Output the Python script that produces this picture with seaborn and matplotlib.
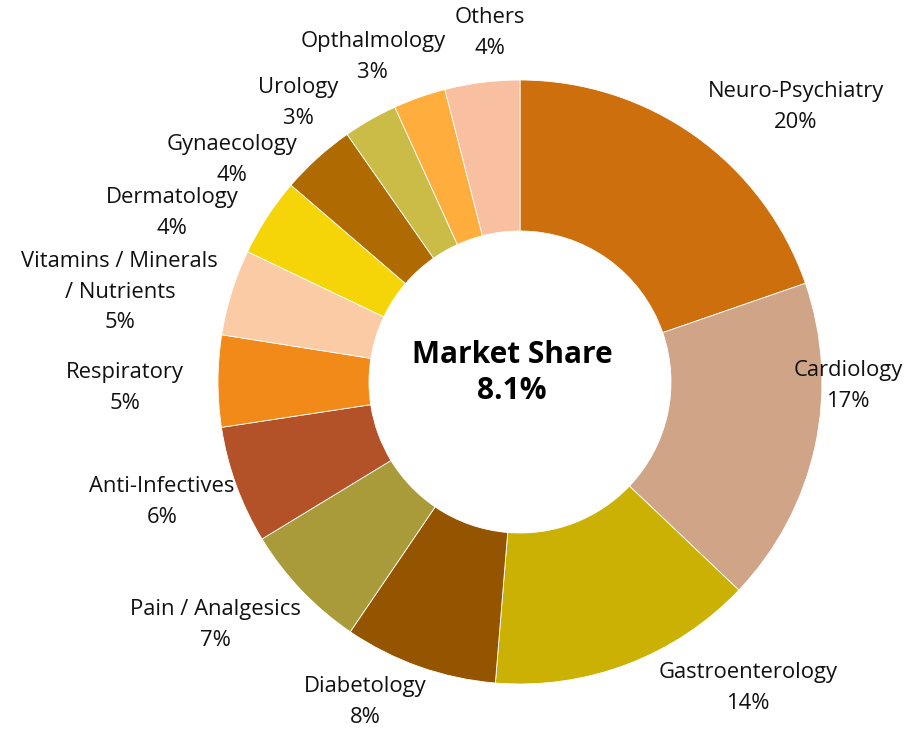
import matplotlib
matplotlib.use("Agg")
import matplotlib.pyplot as plt
import seaborn as sns
import numpy as np

categories = ["Neuro-Psychiatry", "Cardiology", "Gastroenterology", "Diabetology",
              "Pain / Analgesics", "Anti-Infectives", "Respiratory",
              "Vitamins / Minerals\n/ Nutrients", "Dermatology", "Gynaecology",
              "Urology", "Opthalmology", "Others"]
shares = [19.7, 17.4, 14.2, 8.2, 6.8, 6.3, 4.9, 4.6, 4.2, 4.0, 2.9, 2.8, 4.0]
colors = ["#CC6F0C", "#D0A587", "#CCB105", "#955500", "#A99A3A", "#B35128",
          "#F28A1A", "#FACBA5", "#F5D508", "#B06A02", "#CBBC48", "#FFAD3C", "#F8BFA1"]
center_title = "Market Share"
center_value = "8.1%"

# label anchor positions (layout, in pie-radius units)
label_pos = [(0.914, 0.911), (1.086, -0.013), (0.755, -1.013), (-0.513, -1.060),
             (-1.010, -0.805), (-1.185, -0.397), (-1.308, -0.020), (-1.325, 0.298),
             (-1.152, 0.560), (-0.954, 0.735), (-0.735, 0.924), (-0.487, 1.076),
             (-0.099, 1.156)]

sns.set_theme(style="white")
plt.rcParams['font.family'] = ['Open Sans', 'DejaVu Sans']

W, H = 912, 729
fig = plt.figure(figsize=(W / 100, H / 100), dpi=100)
ax = fig.add_axes([0, 0, 1, 1])
cx, cy, R = 520, 382, 302

wedges, _ = ax.pie(shares, colors=colors, startangle=90, counterclock=False,
                   radius=1.0, center=(0, 0), frame=True,
                   wedgeprops=dict(width=0.5, edgecolor="white", linewidth=0.6))
ax.set_xlim(-cx / R, (W - cx) / R)
ax.set_ylim(-(H - cy) / R, cy / R)
ax.axis("off")

total = sum(shares)
for name, val, (lx, ly) in zip(categories, shares, label_pos):
    pct = f"{round(val / total * 100):.0f}%"
    ax.text(lx, ly, f"{name}\n{pct}", ha="center", va="center",
            fontsize=15.8, color="#111111", linespacing=1.62)

ax.text(-0.027, 0.03, f"{center_title}\n{center_value}", ha="center", va="center",
        fontsize=21.5, fontweight="bold", color="black", linespacing=1.25)

fig.savefig("out.png", dpi=100)
